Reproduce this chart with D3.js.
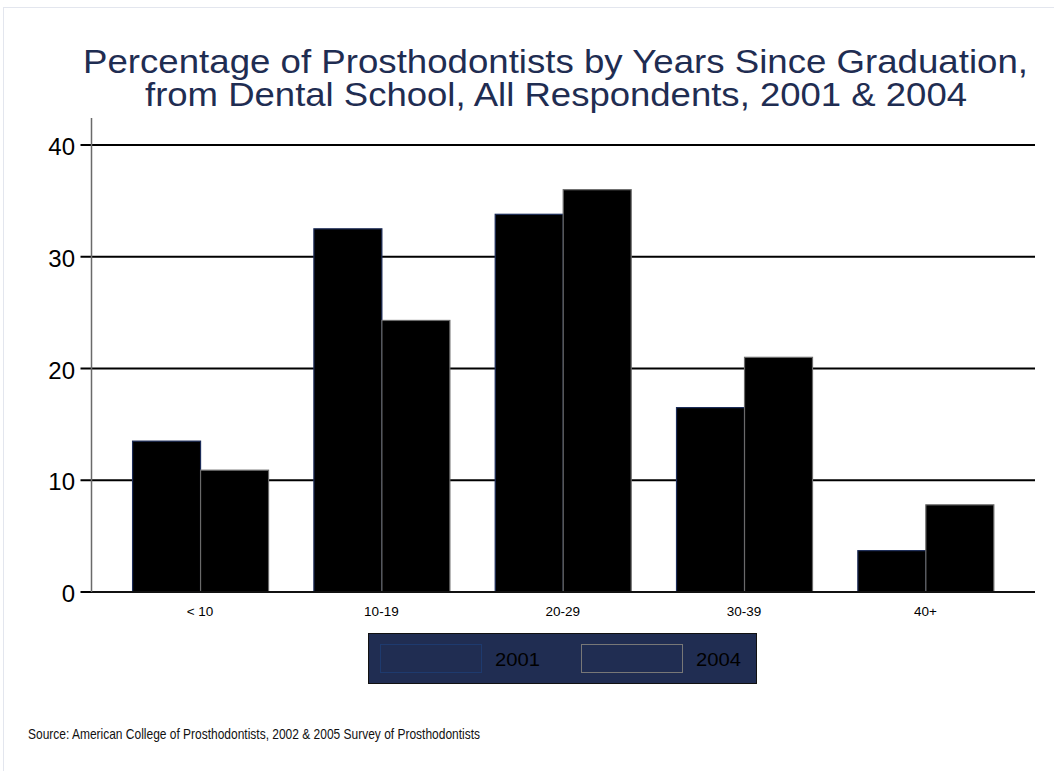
<!DOCTYPE html>
<html><head><meta charset="utf-8">
<script src="https://cdn.jsdelivr.net/npm/d3@7"></script>
<style>body{margin:0;background:#fff}svg{display:block;font-family:"Liberation Sans",Arial,sans-serif}</style>
</head><body><svg id="c" width="1054" height="771"></svg>
<script>
const categories = ["< 10", "10-19", "20-29", "30-39", "40+"];
const seriesNames = ["2001", "2004"];
const values2001 = [13.5, 32.5, 33.8, 16.5, 3.7];
const values2004 = [10.9, 24.3, 36.0, 21.0, 7.8];
const yTicks = [0, 10, 20, 30, 40];

const svg = d3.select("#c");
svg.append("rect").attr("x",3.5).attr("y",7.5).attr("width",1100).attr("height",1000)
  .attr("fill","#fff").attr("stroke","#e3e6ee");

const x0 = 91.5, x1 = 1035, yTop = 118, yBase = 592;
const y = d3.scaleLinear().domain([0,40]).range([yBase, 145]);
const x = d3.scaleBand().domain(categories).range([109.4, 1016]).paddingInner(0.25).paddingOuter(0.125);
const xs = d3.scaleBand().domain(seriesNames).range([0, x.bandwidth()]);

const g = svg.append("g");
g.selectAll("line.grid").data(yTicks).join("line")
  .attr("x1", x0 - 11).attr("x2", x1).attr("y1", d=>y(d)).attr("y2", d=>y(d))
  .attr("stroke", "#000").attr("stroke-width", 2);

const data = categories.map((c,i)=>({c, v:[values2001[i], values2004[i]]}));
const strokes = ["#1c2c58", "#6a6a6a"];
data.forEach(d=>{
  seriesNames.forEach((s,j)=>{
    g.append("rect")
      .attr("x", x(d.c)+xs(s)+0.5)
      .attr("y", y(d.v[j]))
      .attr("width", xs.bandwidth())
      .attr("height", yBase - y(d.v[j]))
      .attr("fill", "#000").attr("stroke", strokes[j]).attr("stroke-width", 1.2);
  });
});

g.append("line").attr("x1", x0).attr("x2", x1).attr("y1", yBase).attr("y2", yBase)
  .attr("stroke", "#111").attr("stroke-width", 2);

g.append("line").attr("x1", x0).attr("x2", x0).attr("y1", yTop).attr("y2", yBase)
  .attr("stroke", "#6a6a6a").attr("stroke-width", 1.5);

const yAxis = d3.axisLeft(y).tickValues(yTicks).tickSize(0).tickPadding(0);
const ya = svg.append("g").attr("transform", `translate(75,2)`).call(yAxis);
ya.select(".domain").remove();
ya.selectAll("text").attr("font-size", 24).attr("fill","#000").attr("font-family","Liberation Sans, Arial, sans-serif");

const xAxis = d3.axisBottom(x).tickSize(0).tickPadding(0);
const xa = svg.append("g").attr("transform", `translate(0,${yBase+14})`).call(xAxis);
xa.select(".domain").remove();
xa.selectAll("text").attr("font-size", 13.5).attr("fill","#000").attr("font-family","Liberation Sans, Arial, sans-serif");

const title = svg.append("text").attr("text-anchor","middle").attr("fill","#1f2d52")
  .attr("font-size", 34);
title.append("tspan").attr("x", 555.5).attr("y", 73)
  .attr("textLength", 945).attr("lengthAdjust","spacingAndGlyphs")
  .text("Percentage of Prosthodontists by Years Since Graduation,");
title.append("tspan").attr("x", 556).attr("y", 106)
  .attr("textLength", 822).attr("lengthAdjust","spacingAndGlyphs")
  .text("from Dental School, All Respondents, 2001 & 2004");

const lg = svg.append("g");
lg.append("rect").attr("x",368.5).attr("y",633.5).attr("width",388).attr("height",50)
  .attr("fill","#202d52").attr("stroke","#111").attr("stroke-width",1);
const legendX = [380, 581];
const legendStroke = ["#1e3a6e", "#777"];
seriesNames.forEach((s,j)=>{
  lg.append("rect").attr("x",legendX[j]+0.5).attr("y",644.5).attr("width",101).attr("height",28)
    .attr("fill","none").attr("stroke",legendStroke[j]).attr("stroke-width",1);
  lg.append("text").attr("x",legendX[j]+115).attr("y",666).attr("font-size",18)
    .attr("textLength",45).attr("lengthAdjust","spacingAndGlyphs")
    .attr("fill","#000").text(s);
});

svg.append("text").attr("x",28).attr("y",739).attr("font-size",14.5).attr("fill","#111")
  .attr("textLength",452).attr("lengthAdjust","spacingAndGlyphs")
  .text("Source: American College of Prosthodontists, 2002 & 2005 Survey of Prosthodontists");
</script></body></html>
